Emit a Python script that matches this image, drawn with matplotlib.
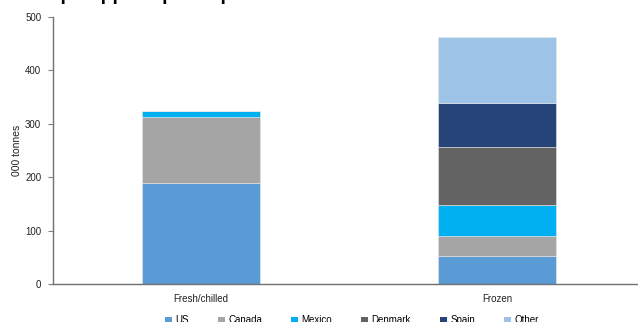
import numpy as np
import matplotlib
matplotlib.use("Agg")
import matplotlib.pyplot as plt
from matplotlib.patches import Patch

plt.rcParams['font.family'] = ['Liberation Sans', 'DejaVu Sans']

categories = ["Fresh/chilled", "Frozen"]
series = ["US", "Canada", "Mexico", "Denmark", "Spain", "Other"]
us = [189, 53]
canada = [124, 37.5]
mexico = [11, 58]
denmark = [0, 108]
spain = [0, 82.5]
other = [0, 124]
colors = ["#5B9BD5", "#A5A5A5", "#00B0F0", "#636363", "#264478", "#9DC3E6"]

values = [us, canada, mexico, denmark, spain, other]

fig = plt.figure(figsize=(6.38, 3.22), dpi=100)
# plot area runs a little past the right edge of the picture
ax = fig.add_axes([53/638, 1 - 284/322, 592/638, 267/322])

x = np.arange(len(categories))
bottom = np.zeros(len(categories))
for name, vals, c in zip(series, values, colors):
    vals = np.array(vals, dtype=float)
    ax.bar(x, vals, width=0.40, bottom=bottom, color=c, label=name,
           edgecolor="#e8e8e8", linewidth=0.4)
    bottom += vals

ax.set_ylim(0, 500)
ax.set_yticks(range(0, 501, 100))
ax.set_xlim(-0.5, 1.5)
ax.set_xticks(x)
ax.set_xticklabels(categories)
ax.tick_params(axis='x', length=0, pad=7, labelsize=7, colors='#222222')
ax.tick_params(axis='y', length=3.5, width=0.8, color='#808080', labelsize=7,
               labelcolor='#222222', pad=5)
ax.set_ylabel("000 tonnes", fontsize=7.5, color='#222222', labelpad=2)
for s in ['top', 'right']:
    ax.spines[s].set_visible(False)
for s in ['left', 'bottom']:
    ax.spines[s].set_color('#707070')
    ax.spines[s].set_linewidth(1.0)

# title, cropped off at the top of the picture
fig.text(0.005, 1.0, "Scallop supplies per import source in 2016",
         fontsize=14, fontweight='bold', va='baseline', ha='left')

handles = [Patch(facecolor=c, label=n) for n, c in zip(series, colors)]
fig.legend(handles=handles, loc='center', ncol=6, frameon=False,
           bbox_to_anchor=(352/638, 0.005), fontsize=7,
           handlelength=0.7, handleheight=0.7, handletextpad=0.35,
           columnspacing=3.0, borderpad=0.2)

fig.savefig("out.png", dpi=100)
